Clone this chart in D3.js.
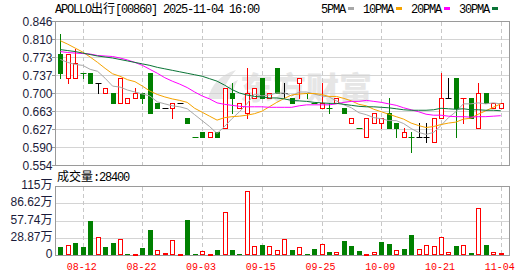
<!DOCTYPE html>
<html><head><meta charset="utf-8">
<script src="https://cdn.jsdelivr.net/npm/d3@7/dist/d3.min.js"></script>
<style>body{margin:0;background:#fff}svg{display:block}</style>
</head><body><svg id="c" width="530" height="276"></svg>
<script>
// ---------------- data ----------------
const title = "APOLLO出行[00860] 2025-11-04 16:00";
const dates = ["08-07","08-08","08-11","08-12","08-13","08-14","08-15","08-18","08-19","08-20",
"08-21","08-22","08-25","08-26","08-27","08-28","08-29","09-01","09-02","09-03",
"09-04","09-05","09-08","09-09","09-10","09-11","09-12","09-15","09-16","09-17",
"09-18","09-19","09-22","09-23","09-24","09-25","09-26","09-29","09-30","10-02",
"10-03","10-06","10-08","10-09","10-10","10-13","10-14","10-15","10-16","10-17",
"10-20","10-21","10-22","10-23","10-24","10-27","10-28","10-30","10-31","11-04"];
const dateTicks = ["08-12","08-22","09-03","09-15","09-25","10-09","10-21","11-04"];
const open  = [0.78,0.73,0.73,0.74,0.74,0.72,0.70,0.70,0.68,0.68, 0.69,0.70,0.74,0.68,0.67,0.67,0.68,0.65,0.61,0.62,
               0.61,0.62,0.63,0.70,0.67,0.66,0.69,0.73,0.69,0.75, 0.70,0.69,0.72,0.70,0.68,0.67,0.67,0.68,0.67,0.64,
               0.63,0.61,0.64,0.64,0.66,0.64,0.61,0.61,0.61,0.61, 0.60,0.65,0.69,0.73,0.69,0.69,0.63,0.70,0.67,0.67];
const high  = [0.82,0.78,0.79,0.74,0.74,0.72,0.71,0.70,0.73,0.69, 0.71,0.70,0.74,0.68,0.67,0.68,0.68,0.65,0.61,0.62,
               0.62,0.62,0.71,0.72,0.68,0.75,0.71,0.73,0.70,0.75, 0.72,0.69,0.73,0.70,0.68,0.72,0.68,0.69,0.67,0.65,
               0.63,0.65,0.66,0.65,0.69,0.64,0.63,0.62,0.64,0.64, 0.65,0.74,0.73,0.73,0.69,0.69,0.72,0.70,0.68,0.68];
const low   = [0.73,0.72,0.73,0.73,0.72,0.70,0.70,0.68,0.68,0.68, 0.69,0.68,0.66,0.67,0.67,0.65,0.68,0.64,0.61,0.61,
               0.61,0.61,0.63,0.66,0.67,0.65,0.69,0.69,0.69,0.70, 0.69,0.68,0.69,0.69,0.68,0.67,0.66,0.68,0.66,0.64,
               0.63,0.61,0.64,0.63,0.63,0.61,0.61,0.58,0.61,0.60, 0.60,0.65,0.69,0.61,0.64,0.65,0.63,0.68,0.67,0.67];
const close = [0.74,0.78,0.76,0.74,0.72,0.72,0.71,0.68,0.73,0.69, 0.70,0.69,0.66,0.67,0.67,0.68,0.68,0.64,0.61,0.61,
               0.62,0.61,0.71,0.69,0.68,0.70,0.71,0.69,0.70,0.70, 0.70,0.68,0.73,0.70,0.68,0.68,0.67,0.69,0.66,0.65,
               0.63,0.65,0.66,0.65,0.63,0.63,0.62,0.61,0.61,0.61, 0.65,0.69,0.69,0.67,0.69,0.65,0.70,0.68,0.68,0.68];
const prevClose = 0.76;
// volume in 万股
const volume = [13.4,16.1,20.0,13.4,56.8,29.5,13.4,20.0,26.2,1.7, 1.1,11.7,41.7,7.8,3.3,24.5,1.7,59.0,1.7,6.1,
                1.1,8.3,71.2,8.3,1.1,106.8,15.0,16.7,15.0,7.8, 26.2,8.3,12.8,1.7,10.0,17.8,5.0,4.5,23.4,15.0,
                6.7,1.1,4.5,21.7,18.4,7.8,10.0,33.4,9.5,16.1, 15.0,30.1,4.5,15.0,16.1,3.3,78.5,16.7,4.5,2.84];
const ma5  = [0.768,0.762,0.758,0.756,0.748,0.744,0.730,0.714,0.712,0.706, 0.702,0.698,0.694,0.682,0.678,0.674,0.672,0.668,0.656,0.644,
              0.632,0.618,0.632,0.648,0.662,0.678,0.698,0.694,0.696,0.700, 0.700,0.694,0.702,0.702,0.698,0.694,0.692,0.684,0.676,0.670,
              0.660,0.656,0.650,0.648,0.644,0.644,0.638,0.628,0.620,0.616, 0.620,0.634,0.650,0.662,0.678,0.678,0.680,0.678,0.680,0.678];
const ma10 = [0.806,0.799,0.791,0.783,0.773,0.762,0.750,0.739,0.734,0.727, 0.723,0.714,0.704,0.697,0.692,0.688,0.685,0.681,0.669,0.661,
              0.653,0.645,0.650,0.652,0.653,0.655,0.658,0.663,0.672,0.681, 0.689,0.696,0.698,0.699,0.699,0.697,0.693,0.693,0.689,0.684,
              0.677,0.674,0.667,0.662,0.657,0.652,0.647,0.639,0.634,0.630, 0.632,0.636,0.639,0.641,0.647,0.649,0.657,0.664,0.671,0.678];
const ma20 = [0.784,0.782,0.781,0.780,0.779,0.776,0.775,0.774,0.771,0.767, 0.762,0.756,0.748,0.740,0.731,0.724,0.718,0.711,0.702,0.694,
              0.688,0.680,0.677,0.675,0.673,0.672,0.672,0.672,0.671,0.671, 0.671,0.671,0.674,0.676,0.676,0.676,0.676,0.678,0.681,0.683,
              0.683,0.685,0.683,0.681,0.678,0.675,0.670,0.666,0.662,0.657, 0.655,0.655,0.653,0.652,0.652,0.651,0.652,0.652,0.653,0.654];
const ma30 = [0.788,0.786,0.784,0.781,0.778,0.775,0.773,0.771,0.768,0.765, 0.762,0.759,0.756,0.752,0.749,0.746,0.743,0.740,0.737,0.734,
              0.729,0.724,0.716,0.707,0.700,0.696,0.693,0.692,0.690,0.690, 0.688,0.685,0.684,0.683,0.681,0.680,0.679,0.679,0.677,0.675,
              0.673,0.672,0.672,0.671,0.670,0.668,0.666,0.665,0.665,0.665, 0.666,0.669,0.668,0.667,0.668,0.666,0.666,0.665,0.665,0.664];
const maNames  = ["5PMA","10PMA","20PMA","30PMA"];
const maColors = ["#a8a8a8","#f5a300","#ff00ff","#0a7436"];
const priceTicks = [0.554,0.5905,0.627,0.6635,0.700,0.7365,0.773,0.8095,0.846];
const priceTickLabels = ["0.554","0.590","0.627","0.663","0.700","0.737","0.773","0.810","0.846"];
const volTicks = [0,28.87,57.74,86.62,115.49];
const volTickLabels = ["0","28.87万","57.74万","86.62万","115万"];
const volLabel = "成交量:28400";
const watermark = "东方财富";

// ---------------- drawing ----------------
const svg = d3.select("#c");
const L = 55.5, R = 509.5;
const x  = d3.scaleLinear().domain([0, dates.length - 1]).range([60.3, 500.7]);
const yP = d3.scaleLinear().domain([0.554, 0.846]).range([165, 21]);
const yV = d3.scaleLinear().domain([0, 115.49]).range([255, 186]);
const RED = "#ff0000", GREEN = "#008000", GRID = "#d4d4d4", FRAME = "#9a9a9a";
const cjk = /[\u3000-\u9fff\uff00-\uffef]/;

function mixed(sel, str, asciiFont, asciiSize, spacing, cjkSize) {
  const runs = [];
  for (const ch of str) {
    const isC = cjk.test(ch);
    if (runs.length && runs[runs.length-1].c === isC) runs[runs.length-1].t += ch;
    else runs.push({c: isC, t: ch});
  }
  runs.forEach(r => {
    const ts = sel.append("tspan").text(r.t);
    if (r.c) ts.style("font-family", "'Noto Sans CJK SC'").style("font-size", cjkSize + "px").style("letter-spacing", "0px");
    else ts.style("font-family", asciiFont).style("font-size", asciiSize + "px").style("letter-spacing", spacing + "px");
  });
  return sel;
}
const crisp = v => Math.round(v) + 0.5;

// watermark
const wm = svg.append("g").attr("fill", "#e6e6e6");
wm.append("path").attr("d", "M208,99 C211,85 220,75 236,70 C228,79 223,88 222,99 Z");
wm.append("path").attr("d", "M222,99 C224,90 230,83 238,80 C234,87 232,93 232,99 Z");
wm.append("text").attr("x", 240).attr("y", 99).attr("textLength", 132).attr("lengthAdjust", "spacingAndGlyphs")
  .style("font-family", "'Noto Sans CJK SC'").style("font-weight", 900).style("font-size", "31px").text(watermark);

// horizontal grids
svg.append("g").selectAll("line").data(priceTicks).join("line")
  .attr("x1", L).attr("x2", R).attr("y1", d => crisp(yP(d))).attr("y2", d => crisp(yP(d)))
  .attr("stroke", GRID);
svg.append("g").selectAll("line").data(volTicks).join("line")
  .attr("x1", L).attr("x2", R).attr("y1", d => crisp(yV(d))).attr("y2", d => crisp(yV(d)))
  .attr("stroke", GRID);

// vertical dashed grids
const tickIdx = dateTicks.map(t => dates.indexOf(t));
const vg = svg.append("g").attr("stroke", "#c8c8c8").attr("stroke-dasharray", "4,3");
vg.selectAll(".a").data(tickIdx).join("line").attr("class","a")
  .attr("x1", d => crisp(x(d))).attr("x2", d => crisp(x(d))).attr("y1", 22).attr("y2", 165);
vg.selectAll(".b").data(tickIdx).join("line").attr("class","b")
  .attr("x1", d => crisp(x(d))).attr("x2", d => crisp(x(d))).attr("y1", 187).attr("y2", 255);

// frames
svg.append("rect").attr("x", L).attr("y", crisp(yP(0.846))).attr("width", R - L).attr("height", crisp(yP(0.554)) - crisp(yP(0.846)))
  .attr("fill", "none").attr("stroke", FRAME);
svg.append("rect").attr("x", L).attr("y", crisp(yV(115.49))).attr("width", R - L).attr("height", crisp(yV(0)) - crisp(yV(115.49)))
  .attr("fill", "none").attr("stroke", FRAME);
// y ticks
svg.append("g").selectAll("line").data(priceTicks).join("line")
  .attr("x1", 52).attr("x2", 55).attr("y1", d => crisp(yP(d))).attr("y2", d => crisp(yP(d))).attr("stroke", FRAME);

// y labels
const LBL = "#1b1b3a";
svg.append("g").selectAll("text").data(priceTicks).join("text")
  .attr("x", 52.5).attr("y", d => yP(d) + 4.5).attr("text-anchor", "end").attr("fill", LBL)
  .style("font-family", "'Liberation Sans', Arial").style("font-size", "12px")
  .text((d, i) => priceTickLabels[i]);
svg.append("g").selectAll("text").data(volTicks).join("text")
  .attr("x", 52.5).attr("y", d => yV(d) + 3).attr("text-anchor", "end").attr("fill", LBL)
  .each(function(d, i) { mixed(d3.select(this), volTickLabels[i], "'Liberation Sans', Arial", 12, 0, 12); });

// x labels
svg.append("g").selectAll("text").data(tickIdx).join("text")
  .attr("x", d => x(d) - 1).attr("y", 270).attr("text-anchor", "middle").attr("fill", RED)
  .style("font-family", "'Liberation Mono', monospace").style("font-size", "10px")
  .text(d => dates[d]);

// title & volume label
mixed(svg.append("text").attr("x", 55).attr("y", 13).attr("fill", "#000"), title, "'Liberation Mono', monospace", 12, -1.2, 12);
mixed(svg.append("text").attr("x", 57).attr("y", 181).attr("fill", "#000"), volLabel, "'Liberation Mono', monospace", 12, -1.2, 12);

// legend
let lx = 321;
maNames.forEach((n, k) => {
  const t = mixed(svg.append("text").attr("x", lx).attr("y", 13).attr("fill", "#000"), n, "'Liberation Mono', monospace", 12, -1.2, 12);
  const w = t.node().getComputedTextLength();
  const mx = Math.round(lx + w + 3);
  svg.append("rect").attr("x", mx).attr("y", 7).attr("width", 6).attr("height", 3).attr("fill", maColors[k]);
  lx = mx + 15;
});

// candles
const candles = dates.map((d, i) => {
  const pc = i ? close[i-1] : prevClose;
  let col;
  if (close[i] > open[i]) col = "up";
  else if (close[i] < open[i]) col = "down";
  else col = close[i] > pc ? "dojiUp" : (close[i] < pc ? "dojiDown" : "flat");
  return {i, o: open[i], h: high[i], l: low[i], c: close[i], pc, col, v: volume[i]};
});
const colorOf = c => c.col === "up" || c.col === "dojiUp" ? RED : (c.col === "flat" ? "#000" : GREEN);
const cg = svg.append("g");
candles.forEach(c => {
  const cx = crisp(x(c.i));
  const col = colorOf(c);
  cg.append("line").attr("x1", cx).attr("x2", cx)
    .attr("y1", Math.round(yP(c.h))).attr("y2", Math.round(yP(c.l)) + 1).attr("stroke", col);
  const yt = Math.round(yP(Math.max(c.o, c.c))), yb = Math.round(yP(Math.min(c.o, c.c)));
  if (c.col === "up") {
    cg.append("rect").attr("x", cx - 2).attr("width", 4).attr("y", yt + 0.5).attr("height", Math.max(1, yb - yt))
      .attr("fill", "#fff").attr("stroke", RED);
  } else if (c.col === "down") {
    cg.append("rect").attr("x", cx - 2.5).attr("width", 5).attr("y", yt).attr("height", Math.max(1, yb - yt + 1))
      .attr("fill", GREEN);
  } else {
    cg.append("line").attr("x1", cx - 3).attr("x2", cx + 3).attr("y1", yt + 0.5).attr("y2", yt + 0.5).attr("stroke", col);
  }
});

// volume bars
const vb = svg.append("g");
candles.forEach(c => {
  const cx = crisp(x(c.i));
  const top = Math.round(yV(c.v)), base = Math.round(yV(0));
  if (c.c >= c.pc) {
    vb.append("rect").attr("x", cx - 2).attr("width", 4).attr("y", top + 0.5).attr("height", Math.max(1, base - top - 1))
      .attr("fill", "#fff").attr("stroke", RED);
  } else {
    vb.append("rect").attr("x", cx - 2.5).attr("width", 5).attr("y", top).attr("height", base - top).attr("fill", GREEN);
  }
});

// moving averages
const line = d3.line().x((d, i) => x(i)).y(d => yP(d));
[ma5, ma10, ma20, ma30].forEach((arr, k) => {
  svg.append("path").attr("d", line(arr)).attr("fill", "none").attr("stroke", maColors[k]).attr("stroke-width", 1);
});
</script></body></html>
